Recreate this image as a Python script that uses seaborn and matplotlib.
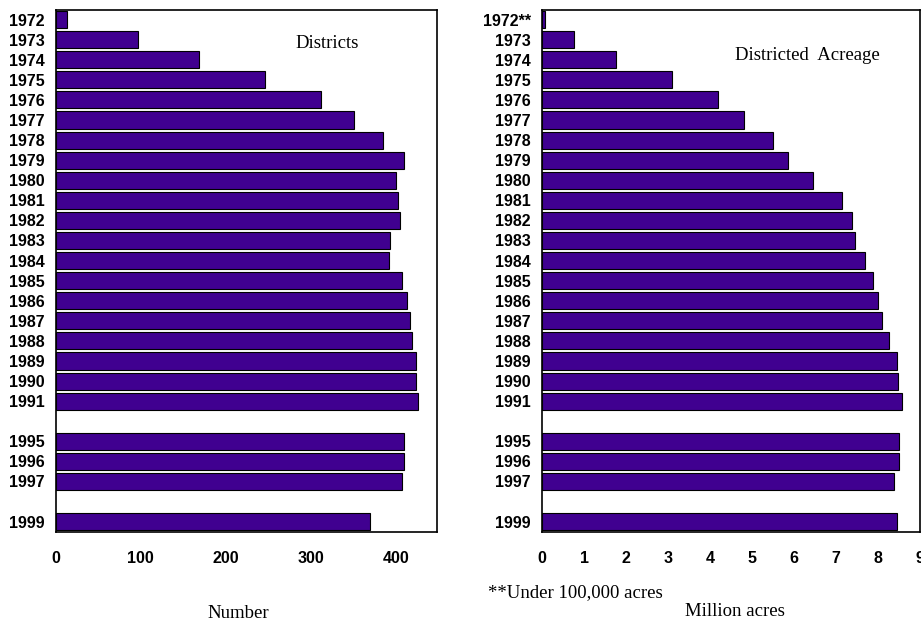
import matplotlib
matplotlib.use("Agg")
import matplotlib.pyplot as plt
import seaborn as sns
import pandas as pd

# Years shown (gaps after 1991 and 1997 are kept as empty rows)
years = ['1972', '1973', '1974', '1975', '1976', '1977', '1978', '1979', '1980', '1981',
         '1982', '1983', '1984', '1985', '1986', '1987', '1988', '1989', '1990', '1991',
         '1995', '1996', '1997', '1999']
acre_labels = ['1972**'] + years[1:]
row_pos = list(range(20)) + [21, 22, 23, 25]

# Number of districts
districts = [13, 97, 169, 246, 312, 351, 385, 409, 400, 403,
             405, 393, 392, 407, 413, 417, 419, 424, 424, 426,
             410, 410, 407, 370]

# Districted acreage, million acres
acreage = [0.08, 0.77, 1.75, 3.09, 4.20, 4.81, 5.50, 5.86, 6.46, 7.14,
           7.38, 7.45, 7.69, 7.87, 8.00, 8.10, 8.26, 8.46, 8.48, 8.56,
           8.49, 8.49, 8.39, 8.46]

data = pd.DataFrame({'pos': row_pos, 'districts': districts, 'acreage': acreage})

sns.set_style('white')
plt.rcParams['font.family'] = ['Liberation Sans', 'DejaVu Sans']
plt.rcParams['text.color'] = 'black'
plt.rcParams['xtick.color'] = 'black'
plt.rcParams['ytick.color'] = 'black'

bar_color = '#400090'
fig = plt.figure(figsize=(9.21, 6.22), dpi=100)
ax1 = fig.add_axes([0.0603, 0.1452, 0.4139, 0.8395])
ax2 = fig.add_axes([0.5885, 0.1452, 0.4104, 0.8395])

panels = [
    (ax1, 'districts', years, (0, 448), [0, 100, 200, 300, 400]),
    (ax2, 'acreage', acre_labels, (0, 9), list(range(10))),
]

for ax, col, labels, xlim, xticks in panels:
    sns.barplot(data=data, x=col, y='pos', orient='h', native_scale=True,
                color=bar_color, saturation=1, width=0.85,
                edgecolor='black', linewidth=0.8, ax=ax)
    ax.set_xlim(*xlim)
    ax.set_ylim(25.5, -0.5)
    ax.set_yticks(row_pos)
    ax.set_yticklabels(labels, fontsize=11.5, fontweight='bold', color='black')
    ax.set_xticks(xticks)
    ax.set_xticklabels([str(t) for t in xticks], fontsize=11.5, fontweight='bold',
                       color='black')
    ax.tick_params(axis='both', length=0)
    ax.tick_params(axis='x', pad=14)
    ax.tick_params(axis='y', pad=8)
    ax.set_xlabel('')
    ax.set_ylabel('')
    for side in ['left', 'right', 'top', 'bottom']:
        ax.spines[side].set_visible(True)
        ax.spines[side].set_color('black')
        ax.spines[side].set_linewidth(1.2)

# let the cut-off "9" label hang past the figure edge like the original
for lbl in ax2.get_xticklabels():
    lbl.set_clip_on(False)

serif = ['Liberation Serif', 'DejaVu Serif']
fig.text(327 / 921, 1 - 43 / 622, 'Districts', family=serif, fontsize=13.5,
         ha='center', va='center')
fig.text(807 / 921, 1 - 55 / 622, 'Districted  Acreage', family=serif, fontsize=13.5,
         ha='center', va='center')
fig.text(238 / 921, 1 - 613 / 622, 'Number', family=serif, fontsize=13.5,
         ha='center', va='center')
fig.text(735 / 921, 1 - 612 / 622, 'Million acres', family=serif, fontsize=13.5,
         ha='center', va='center')
fig.text(488 / 921, 1 - 593 / 622, '**Under 100,000 acres', family=serif, fontsize=13.5,
         ha='left', va='center')

fig.savefig('out.png', dpi=100)
